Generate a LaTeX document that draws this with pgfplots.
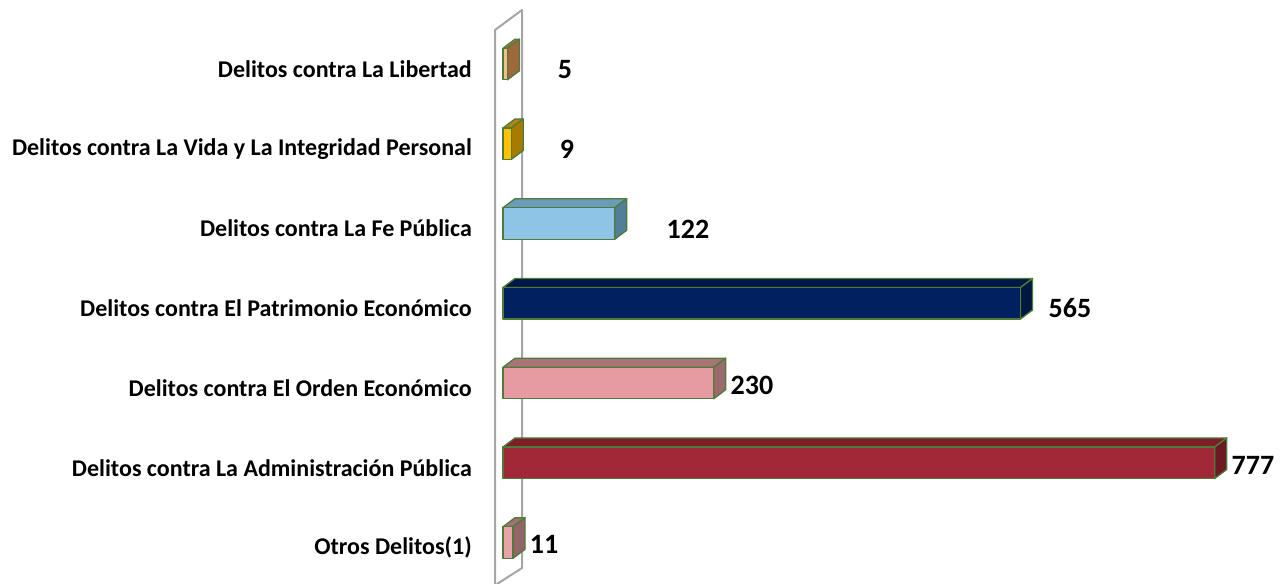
\documentclass[border=0pt]{standalone}
\usepackage{pgfplots}
\pgfplotsset{compat=1.18}
\usepackage{fontspec}
\setmainfont{Carlito}
\definecolor{edge}{HTML}{4F7B3A}
\definecolor{wall}{HTML}{A6A6A6}
\definecolor{libF}{HTML}{F5BE88}\definecolor{libT}{HTML}{A87242}\definecolor{libS}{HTML}{9E683C}
\definecolor{vidF}{HTML}{FFC000}\definecolor{vidT}{HTML}{B38600}\definecolor{vidS}{HTML}{A67C00}
\definecolor{feF}{HTML}{8EC5E6}\definecolor{feT}{HTML}{6A9BB8}\definecolor{feS}{HTML}{527E98}
\definecolor{patF}{HTML}{002060}\definecolor{patT}{HTML}{001848}\definecolor{patS}{HTML}{00173F}
\definecolor{ordF}{HTML}{E69BA3}\definecolor{ordT}{HTML}{A97478}\definecolor{ordS}{HTML}{9A6A6E}
\definecolor{admF}{HTML}{A12836}\definecolor{admT}{HTML}{7B1E28}\definecolor{admS}{HTML}{6B1A22}
\definecolor{otrF}{HTML}{E8A2A8}\definecolor{otrT}{HTML}{A07073}\definecolor{otrS}{HTML}{956468}
% #1 y position, #2 value, #3 front, #4 top, #5 side
\newcommand{\threedbar}[5]{%
  \pgfmathsetmacro\ylo{#1-0.1975}%
  \pgfmathsetmacro\yhi{#1+0.1975}%
  \pgfmathsetmacro\ybk{#1+0.1975+0.113}%
  \pgfmathsetmacro\ybl{#1-0.1975+0.113}%
  \pgfmathsetmacro\xe{#2+13.1}%
  \addplot[fill=#4, draw=edge, line width=1.3pt, line join=round] coordinates {(0,\yhi) (#2,\yhi) (\xe,\ybk) (13.1,\ybk)} -- cycle;
  \addplot[fill=#5, draw=edge, line width=1.3pt, line join=round] coordinates {(#2,\ylo) (#2,\yhi) (\xe,\ybk) (\xe,\ybl)} -- cycle;
  \addplot[fill=#3, draw=edge, line width=1.3pt, line join=round] coordinates {(0,\ylo) (#2,\ylo) (#2,\yhi) (0,\yhi)} -- cycle;
}
\begin{document}
\begin{tikzpicture}[x=1pt,y=1pt]
\useasboundingbox (0,0) rectangle (1286,584);
% back wall
\draw[wall, line width=2pt, line join=round] (495,0) -- (495,554) -- (522,574) -- (522,16) -- (497,0);
\begin{axis}[at={(503pt,-6.35pt)}, anchor=south west, scale only axis,
  width=778.6pt, height=590.15pt, xmin=0, xmax=850, ymin=-0.6, ymax=6.8,
  clip=false, hide x axis, axis y line*=left, y axis line style={draw=none},
  major tick length=0pt, ytick={0,...,6},
  yticklabels={Otros Delitos(1), Delitos contra La Administración Pública, Delitos contra El Orden Económico, Delitos contra El Patrimonio Económico, Delitos contra La Fe Pública, Delitos contra La Vida y La Integridad Personal, Delitos contra La Libertad},
  yticklabel style={anchor=east, inner sep=0pt, xshift=-31pt, yshift=-5pt, font=\fontsize{24}{28}\selectfont\bfseries},
]
\threedbar{6}{5}{libF}{libT}{libS}
\threedbar{5}{9}{vidF}{vidT}{vidS}
\threedbar{4}{122}{feF}{feT}{feS}
\threedbar{3}{565}{patF}{patT}{patS}
\threedbar{2}{230}{ordF}{ordT}{ordS}
\threedbar{1}{777}{admF}{admT}{admS}
\threedbar{0}{11}{otrF}{otrT}{otrS}
\begin{scope}[every node/.style={font=\fontsize{28}{32}\selectfont\bfseries, anchor=center}]
\node at (axis cs:67.7,5.935) {5};
\node at (axis cs:69.9,4.93) {9};
\node at (axis cs:202,3.93) {122};
\node at (axis cs:619,2.937) {565};
\node at (axis cs:271.8,1.975) {230};
\node at (axis cs:818.8,0.962) {777};
\node at (axis cs:44.8,-0.03) {11};
\end{scope}
\end{axis}
\end{tikzpicture}
\end{document}
